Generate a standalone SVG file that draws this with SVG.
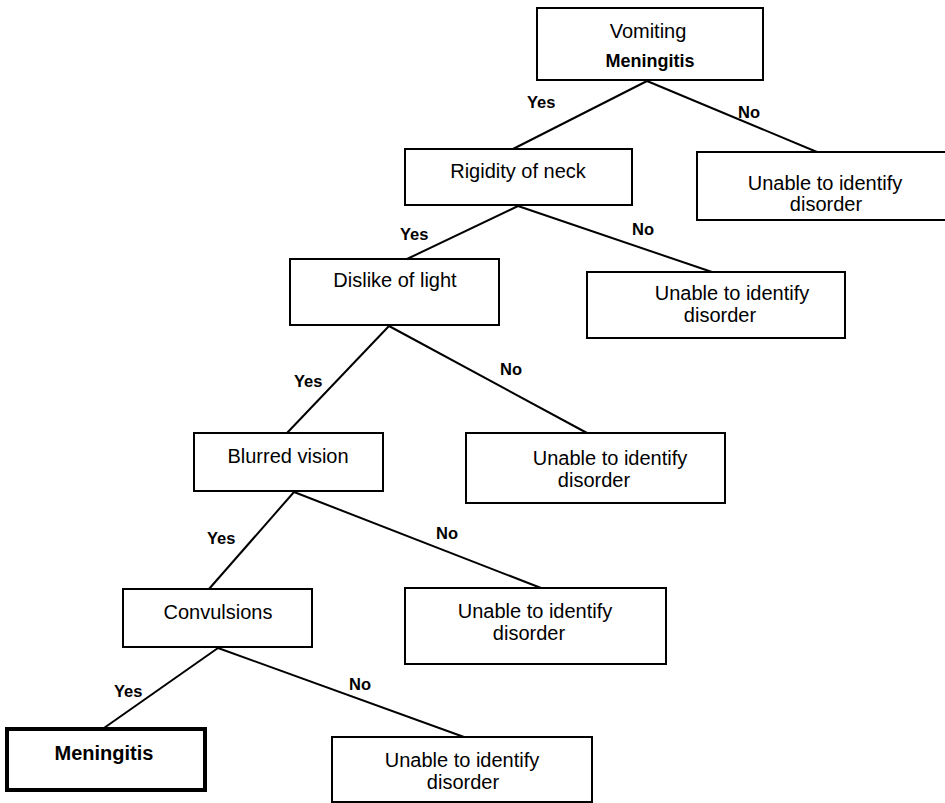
<svg xmlns="http://www.w3.org/2000/svg" width="945" height="803" viewBox="0 0 945 803">
  <style>
    .box { fill: #ffffff; stroke: #000000; stroke-width: 2; }
    .final { fill: #ffffff; stroke: #000000; stroke-width: 4; }
    .edge { stroke: #000000; stroke-width: 2; fill: none; }
    text { font-family: "Liberation Sans", Arial, sans-serif; fill: #000000; }
    .t { font-size: 20px; text-anchor: middle; }
    .tb { font-size: 20px; font-weight: bold; text-anchor: middle; }
    .lbl { font-size: 16.5px; font-weight: bold; }
  </style>
  <rect width="945" height="803" fill="#ffffff"/>

  <!-- branches -->
  <g id="connectors">
    <line class="edge" x1="647" y1="81" x2="513" y2="149"/>
    <line class="edge" x1="647" y1="81" x2="817" y2="152"/>
    <line class="edge" x1="518" y1="206" x2="407" y2="259"/>
    <line class="edge" x1="518" y1="206" x2="712" y2="272"/>
    <line class="edge" x1="389" y1="326" x2="287" y2="433"/>
    <line class="edge" x1="389" y1="326" x2="587" y2="433"/>
    <line class="edge" x1="294" y1="492" x2="209" y2="589"/>
    <line class="edge" x1="294" y1="492" x2="541" y2="588"/>
    <line class="edge" x1="218" y1="648" x2="104" y2="728"/>
    <line class="edge" x1="218" y1="648" x2="464" y2="737"/>
    <text class="lbl" x="527" y="108">Yes</text>
    <text class="lbl" x="738" y="118">No</text>
    <text class="lbl" x="400" y="240">Yes</text>
    <text class="lbl" x="632" y="235">No</text>
    <text class="lbl" x="294" y="387">Yes</text>
    <text class="lbl" x="500" y="375">No</text>
    <text class="lbl" x="207" y="544">Yes</text>
    <text class="lbl" x="436" y="539">No</text>
    <text class="lbl" x="114" y="697">Yes</text>
    <text class="lbl" x="349" y="690">No</text>
  </g>

  <g id="vomiting">
    <rect class="box" x="537" y="8" width="226" height="72"/>
    <text class="t" x="648" y="38">Vomiting</text>
    <text class="tb" x="650" y="67" style="font-size:18px">Meningitis</text>
  </g>

  <g id="unable-1">
    <rect class="box" x="697" y="152" width="252" height="68"/>
    <text class="t" x="825" y="190">Unable to identify</text>
    <text class="t" x="826" y="211">disorder</text>
  </g>

  <g id="rigidity">
    <rect class="box" x="405" y="149" width="227" height="56"/>
    <text class="t" x="518" y="178">Rigidity of neck</text>
  </g>

  <g id="dislike">
    <rect class="box" x="290" y="259" width="209" height="66"/>
    <text class="t" x="395" y="287">Dislike of light</text>
  </g>

  <g id="unable-2">
    <rect class="box" x="587" y="272" width="258" height="66"/>
    <text class="t" x="732" y="300">Unable to identify</text>
    <text class="t" x="720" y="322">disorder</text>
  </g>

  <g id="blurred">
    <rect class="box" x="194" y="433" width="189" height="58"/>
    <text class="t" x="288" y="463">Blurred vision</text>
  </g>

  <g id="unable-3">
    <rect class="box" x="466" y="433" width="259" height="70"/>
    <text class="t" x="610" y="465">Unable to identify</text>
    <text class="t" x="594" y="487">disorder</text>
  </g>

  <g id="convulsions">
    <rect class="box" x="123" y="589" width="189" height="58"/>
    <text class="t" x="218" y="619">Convulsions</text>
  </g>

  <g id="unable-4">
    <rect class="box" x="405" y="588" width="261" height="76"/>
    <text class="t" x="535" y="618">Unable to identify</text>
    <text class="t" x="529" y="640">disorder</text>
  </g>

  <g id="meningitis">
    <rect class="final" x="7" y="729" width="198" height="61"/>
    <text class="tb" x="104" y="760">Meningitis</text>
  </g>

  <g id="unable-5">
    <rect class="box" x="332" y="737" width="260" height="65"/>
    <text class="t" x="462" y="767">Unable to identify</text>
    <text class="t" x="463" y="789">disorder</text>
  </g>
</svg>
